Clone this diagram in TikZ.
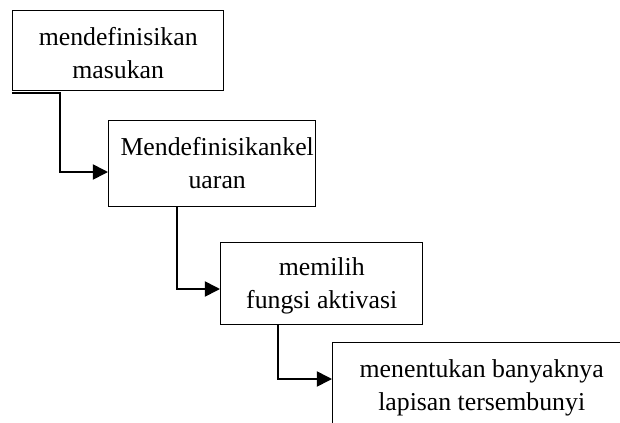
\documentclass[tikz,border=0pt]{standalone}
\usepackage{fontspec}
\setmainfont{Liberation Serif}
\usetikzlibrary{arrows.meta,positioning,calc}

\begin{document}
\begin{tikzpicture}[x=0.03cm, y=-0.03cm]
  \tikzset{
    box/.style={rectangle, draw, fill=none, line width=1.2pt,
      anchor=north west, inner sep=0pt},
    lbl/.style={anchor=north, inner sep=0pt, align=center,
      font=\fontsize{22}{28}\selectfont},
    flow/.style={-{Triangle[length=13pt,width=13pt]}, line width=1.4pt}
  }
  \useasboundingbox (0,0) rectangle (620,423);
  \clip (0,0) rectangle (620,423);

  \node[box, minimum width=6.33cm, minimum height=2.40cm] (b1) at (12,10) {};
  \node[box, minimum width=6.21cm, minimum height=2.58cm] (b2) at (108,120) {};
  \node[box, minimum width=6.06cm, minimum height=2.46cm] (b3) at (220,242) {};
  \node[box, minimum width=8.94cm, minimum height=2.58cm] (b4) at (332,342) {};

  \node[lbl] (t1) at ($(b1.north)+(0,17.5)$) {mendefinisikan\\masukan};
  \node[lbl] (t2) at ($(b2.north)+(5,17.5)$) {Mendefinisikankel\\uaran};
  \node[lbl] (t3) at ($(b3.north)+(0,15.5)$) {memilih\\fungsi aktivasi};
  \node[lbl] (t4) at ($(b4.north)+(0,17.5)$) {menentukan banyaknya\\lapisan tersembunyi};

  \draw[flow] ($(b1.south west)+(0,1.5)$) -- ++(48,0) |- ($(b2.north west)+(0,52)$);
  \draw[flow] ($(b2.south west)+(69,0)$) |- ($(b3.north west)+(0,47)$);
  \draw[flow] ($(b3.south west)+(58,0)$) |- ($(b4.north west)+(0,37)$);
\end{tikzpicture}
\end{document}
